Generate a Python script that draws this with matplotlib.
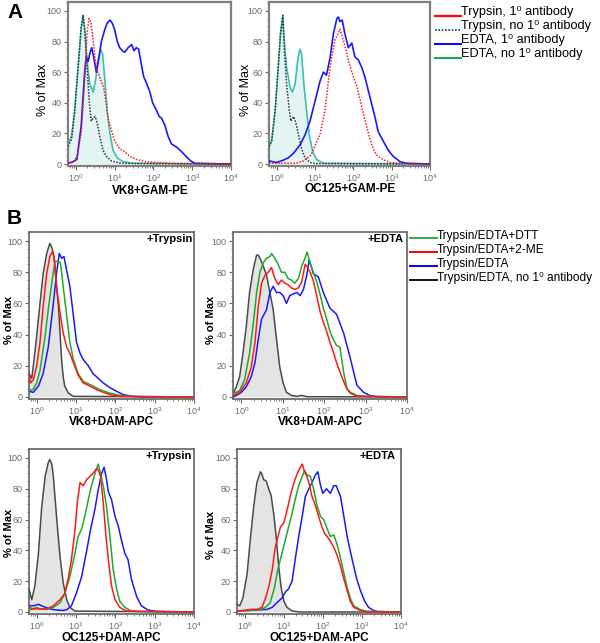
import numpy as np
import matplotlib
matplotlib.use("Agg")
import matplotlib.pyplot as plt
from matplotlib.ticker import LogLocator, MultipleLocator, NullFormatter, FixedLocator
from matplotlib.lines import Line2D

plt.rcParams['font.family'] = ['Liberation Sans', 'DejaVu Sans']
plt.rcParams['mathtext.fontset'] = 'custom'
plt.rcParams['mathtext.rm'] = 'Liberation Sans'
plt.rcParams['mathtext.it'] = 'Liberation Sans'
plt.rcParams['mathtext.bf'] = 'Liberation Sans:bold'

# ---------------- data (x = log10 fluorescence, y = % of Max) ----------------
# Panel A, left: VK8+GAM-PE
A1_tryp_noab_x = [-0.2,-0.11,-0.03,0.06,0.14,0.19,0.24,0.29,0.36,0.4,0.45,0.5,0.55,0.62,0.7,0.79,0.92,1.13,1.48,4.0]
A1_tryp_noab_y = [11.5,16,33,63,89,97.5,85,63,37,28,30,31,27,18,9,5,2,0.6,0.3,0]
A1_edta_noab_x = [-0.2,-0.11,-0.03,0.06,0.14,0.19,0.24,0.29,0.36,0.45,0.51,0.58,0.64,0.69,0.75,0.81,0.88,0.96,1.07,1.22,1.48,4.0]
A1_edta_noab_y = [13,18,35,63,89,97,85,68,52,47,55,68,75,72,55,35,20,9,4,1.5,0.5,0]
A1_tryp_ab_x = [-0.2,-0.07,0.03,0.14,0.23,0.29,0.34,0.39,0.46,0.53,0.6,0.67,0.72,0.77,0.83,0.92,1.0,1.13,1.26,1.39,1.56,1.82,2.17,2.68,4.0]
A1_tryp_ab_y = [0.5,1,5,20,55,85,95,93,78,62,58,53,50,42,30,22,15,10,8,5,3,1.5,0.8,0.3,0]
A1_edta_ab_x = [-0.2,-0.07,0.03,0.14,0.23,0.27,0.32,0.36,0.41,0.46,0.53,0.6,0.66,0.75,0.81,0.88,0.94,1.0,1.07,1.13,1.2,1.26,1.35,1.44,1.5,1.56,1.62,1.69,1.75,1.82,1.91,1.98,2.02,2.08,2.15,2.21,2.3,2.38,2.47,2.6,2.73,2.84,2.96,3.07,4.0]
A1_edta_ab_y = [0.5,1.5,3,25,60,70,67,72,76,70,60,70,80,88,92,94,92,88,80,76,74,73,76,78,74,76,75,65,57,53,47,40,38,35,31,30,25,18,13,11,8,5,2,0.5,0]

# Panel A, right: OC125+GAM-PE
A2_tryp_noab_x = [-0.2,-0.13,-0.04,0.04,0.1,0.16,0.2,0.26,0.33,0.37,0.44,0.5,0.57,0.65,0.74,0.87,1.0,4.0]
A2_tryp_noab_y = [11.5,15,35,63,85,97,74,52,35,28,31,27,19,10,4,1,0.3,0]
A2_edta_noab_x = [-0.2,-0.13,-0.04,0.04,0.1,0.16,0.2,0.26,0.35,0.41,0.48,0.55,0.61,0.65,0.71,0.78,0.85,0.94,1.04,1.22,4.0]
A2_edta_noab_y = [11.5,15,35,63,85,97,80,63,50,47,52,68,75,72,52,35,19,8,3,0.5,0]
A2_tryp_ab_x = [-0.2,0.5,0.7,0.9,1.0,1.13,1.26,1.39,1.52,1.6,1.65,1.7,1.75,1.83,1.9,2.0,2.1,2.17,2.26,2.35,2.45,2.52,2.6,2.7,2.85,2.96,3.3,4.0]
A2_tryp_ab_y = [0.5,0.5,2,6,12,19,35,63,81,85,88,84,80,72,65,57,50,43,33,24,15,10,6,4,2,1,0.5,0]
A2_edta_ab_x = [-0.2,0.0,0.17,0.3,0.44,0.61,0.74,0.87,1.0,1.13,1.22,1.3,1.39,1.48,1.57,1.61,1.65,1.71,1.78,1.87,1.96,2.04,2.13,2.22,2.3,2.39,2.48,2.57,2.65,2.78,2.91,3.04,3.22,3.39,4.0]
A2_edta_ab_y = [2,1,2.5,4,7,12.5,19,28,41,54,60,58,69,85,95,96,93,94,85,76,79,70,68,63,57,48,39,30,21,15,9,5,1.5,0.5,0]

# Panel B, top-left: VK8+DAM-APC, +Trypsin
B1_noab_x = [-0.2,-0.13,-0.09,-0.005,0.08,0.16,0.25,0.33,0.38,0.42,0.46,0.5,0.55,0.59,0.63,0.67,0.71,0.8,0.93,4.0]
B1_noab_y = [15,12,20,39,60,79,92,98.5,96,92,84,71,58,41,24,13,7,2.5,0.4,0]
B1_2me_x = [-0.2,-0.16,-0.09,-0.005,0.08,0.16,0.25,0.33,0.39,0.44,0.5,0.59,0.67,0.76,0.84,0.93,1.05,1.18,1.35,1.52,1.69,1.86,2.11,4.0]
B1_2me_y = [15,9,11,20,35,58,79,90,93,90,71,54,41,32,28,22,14,9,7,4.7,3,1.5,0.4,0]
B1_dtt_x = [-0.2,-0.09,-0.005,0.08,0.21,0.29,0.38,0.46,0.55,0.6,0.67,0.76,0.84,0.93,1.05,1.18,1.31,1.43,1.6,1.86,2.11,2.45,4.0]
B1_dtt_y = [4,5,9,17,39,56,73,87,87,86,71,52,35,24,15,10,8.5,7,4.7,2.5,1,0.3,0]
B1_edta_x = [-0.2,-0.09,0.04,0.16,0.29,0.42,0.5,0.57,0.63,0.69,0.76,0.84,0.93,1.01,1.1,1.18,1.31,1.43,1.56,1.69,1.86,2.03,2.2,2.45,2.62,4.0]
B1_edta_y = [3.6,3,7,15,32,60,79,92,89,90,81,71,52,35,28,24,20,15,12,9,6,3.6,1.5,0.4,0.1,0]

# Panel B, top-right: VK8+DAM-APC, +EDTA
B2_noab_x = [-0.2,-0.12,-0.04,0.04,0.12,0.2,0.29,0.37,0.41,0.45,0.53,0.61,0.69,0.77,0.85,0.93,1.01,1.09,1.21,1.34,1.46,1.58,4.0]
B2_noab_y = [2,6.5,13,28,45,67,82,91,91,89,84,78,67,56,37,19,9,3,1,0.4,1,0.2,0]
B2_2me_x = [-0.2,-0.04,0.12,0.24,0.33,0.41,0.49,0.57,0.65,0.73,0.81,0.89,0.97,1.05,1.13,1.21,1.29,1.38,1.46,1.54,1.58,1.66,1.74,1.82,1.9,1.98,2.06,2.14,2.22,2.3,2.38,2.47,2.55,2.63,2.79,4.0]
B2_2me_y = [1,3,9,19,35,58,73,78,80,83,76,72,75,73,72,70,69,70,74,85,84,80,74.5,65,55,48,42,35,29,22,16,10,5,2.5,0.5,0]
B2_dtt_x = [-0.2,-0.04,0.08,0.2,0.29,0.37,0.45,0.53,0.61,0.69,0.73,0.81,0.89,0.97,1.05,1.13,1.21,1.29,1.38,1.46,1.54,1.59,1.66,1.74,1.82,1.9,1.98,2.06,2.14,2.22,2.3,2.38,2.47,2.55,2.63,2.79,3.03,4.0]
B2_dtt_y = [2,4,11,28,47,67,80,86,89,90,92,89,85,80,80,76,75,73,76,84,89,93,86,80,74,66,57,50,42,37,33,32,16,5.4,3,1,0.4,0]
B2_edta_x = [-0.2,-0.12,0.0,0.12,0.24,0.33,0.41,0.49,0.61,0.69,0.77,0.85,0.93,1.01,1.09,1.17,1.25,1.34,1.42,1.5,1.58,1.64,1.74,1.86,1.98,2.14,2.3,2.47,2.63,2.79,2.95,3.1,3.27,4.0]
B2_edta_y = [0,1,3,6.5,13,22,37,50,56,67,71,67,67,65,60,65,66,67,65,69,78,88,79,77,67,57,53,41,25,7.5,3,1,0.2,0]

# Panel B, bottom-left: OC125+DAM-APC, +Trypsin
B3_noab_x = [-0.2,-0.13,-0.05,0.04,0.12,0.21,0.29,0.33,0.38,0.42,0.46,0.52,0.59,0.67,0.76,0.84,0.97,4.0]
B3_noab_y = [15,8,17,38,67,88,97,99,96,88,75,56,36,19,8,3,0.6,0]
B3_2me_x = [-0.2,-0.09,0.08,0.25,0.42,0.59,0.71,0.8,0.88,0.97,1.03,1.1,1.18,1.27,1.35,1.43,1.52,1.57,1.62,1.69,1.76,1.82,1.9,1.99,2.11,2.28,4.0]
B3_2me_y = [3,2,2,2,4,8,12,22,34,53,71,84,82,86,88,90,93,92,88,71,49,34,17,8,3,0.6,0]
B3_dtt_x = [-0.2,-0.09,-0.005,0.08,0.25,0.42,0.59,0.71,0.84,0.97,1.05,1.14,1.22,1.31,1.39,1.48,1.56,1.6,1.69,1.77,1.86,1.94,2.03,2.11,2.24,2.37,2.53,4.0]
B3_dtt_y = [1.3,2,3,2,1.7,3,6,12,23,38,49,54,62,73,82,90,96,92,82,69,49,28,15,7,3,1,0.3,0]
B3_edta_x = [-0.2,-0.09,0.04,0.12,0.33,0.5,0.67,0.76,0.88,1.01,1.14,1.27,1.37,1.48,1.56,1.65,1.71,1.76,1.82,1.9,1.99,2.07,2.15,2.24,2.32,2.41,2.54,2.66,2.83,3.04,4.0]
B3_edta_y = [4,4,5,4,2,1.3,1,1.5,4,12.5,23,40,54,67,79,90,94,88,78,73,62,56,47,38,34,21,10,4,1.3,0.4,0]

# Panel B, bottom-right: OC125+DAM-APC, +EDTA
B4_noab_x = [-0.2,-0.13,-0.05,0.06,0.14,0.23,0.31,0.4,0.44,0.48,0.55,0.61,0.67,0.74,0.81,0.87,0.93,1.0,1.08,1.21,1.42,4.0]
B4_noab_y = [5,4,9,25,47,69,84,91,89.5,86,85,80,76,64,47,29,16,7,3,0.7,0,0]
B4_2me_x = [-0.2,-0.03,0.14,0.31,0.44,0.53,0.61,0.7,0.78,0.91,1.0,1.1,1.18,1.27,1.38,1.47,1.53,1.59,1.66,1.72,1.81,1.89,1.98,2.04,2.11,2.19,2.28,2.36,2.45,2.53,2.62,2.7,2.79,2.96,3.13,4.0]
B4_2me_y = [0.7,1,1.7,1.7,3,9,16,27,42,55,58,68,77,85,92,96,91,88,82,75,69,62,55,51,49,46,42,37,30,22,14,7,3,1,0,0]
B4_dtt_x = [-0.2,0.14,0.4,0.53,0.65,0.76,0.84,0.95,1.04,1.12,1.21,1.29,1.38,1.47,1.53,1.59,1.68,1.76,1.85,1.94,2.02,2.11,2.19,2.28,2.36,2.45,2.53,2.62,2.7,2.79,2.96,3.13,4.0]
B4_dtt_y = [0.7,1,1.7,3,6,16,27,38,47,55,64,73,82,88,92,89,88,80,69,62,60,54,49,50,44,35,26,16,9,4,1.5,0.5,0]
B4_edta_x = [-0.2,0.14,0.57,0.7,0.82,0.95,1.04,1.12,1.21,1.29,1.38,1.47,1.55,1.64,1.72,1.81,1.87,1.94,2.0,2.09,2.19,2.28,2.34,2.45,2.55,2.62,2.75,2.86,2.96,3.07,3.17,3.3,3.39,4.0]
B4_edta_y = [0.7,1,1.7,3,6,9,13,15,20,34,49,62,75,80,84,89,91,82,77,80,77,82,82,75,60,49,34,22,14,7,3,1,0.3,0]

A_legend_labels = ["Trypsin, 1\u2070 antibody", "Trypsin, no 1\u2070 antibody",
                   "EDTA, 1\u2070 antibody", "EDTA, no 1\u2070 antibody"]
B_legend_labels = ["Trypsin/EDTA+DTT", "Trypsin/EDTA+2-ME", "Trypsin/EDTA",
                   "Trypsin/EDTA, no 1\u2070 antibody"]
A_xlabels = ["VK8+GAM-PE", "OC125+GAM-PE"]
B_xlabels = ["VK8+DAM-APC", "VK8+DAM-APC", "OC125+DAM-APC", "OC125+DAM-APC"]
B_tags = ["+Trypsin", "+EDTA", "+Trypsin", "+EDTA"]
y_ticks = [0, 20, 40, 60, 80, 100]

# ---------------- styling ----------------
W, H = 600, 643
fig = plt.figure(figsize=(W / 100, H / 100), dpi=100)

RED = '#ff1a1a'
BLUE = '#1a1aff'
GREEN = '#1faa2a'
CYAN = '#3dbfb3'
CYAN_FILL = '#e3f4f3'
GRAY = '#4a4a4a'
GRAY_FILL = '#e4e4e4'
TICKC = '#6a6a6a'


def px_axes(l, t, r, b):
    return fig.add_axes([l / W, 1 - b / H, (r - l) / W, (b - t) / H])


def ftext(x, y, s, **kw):
    fig.text(x / W, 1 - y / H, s, **kw)


def style(ax, spine_color='#808080', spine_w=1.6):
    ax.set_xscale('log')
    ax.set_xlim(10 ** -0.2, 10 ** 4)
    ax.set_ylim(-1.3, 105.8)
    ax.xaxis.set_major_locator(LogLocator(base=10, numticks=10))
    ax.xaxis.set_minor_locator(LogLocator(base=10, subs=np.arange(2, 10), numticks=10))
    ax.xaxis.set_minor_formatter(NullFormatter())
    ax.yaxis.set_major_locator(FixedLocator(y_ticks))
    ax.yaxis.set_minor_locator(MultipleLocator(5))
    for s in ax.spines.values():
        s.set_color(spine_color)
        s.set_linewidth(spine_w)
    ax.tick_params(axis='both', which='major', direction='out', length=3, width=0.8,
                   colors=TICKC, labelsize=6.5, pad=1.5)
    ax.tick_params(axis='both', which='minor', direction='out', length=1.6, width=0.6,
                   colors=TICKC)
    ax.tick_params(axis='x', which='major', pad=1.5)
    ax.set_facecolor('white')


def X(v):
    return 10 ** np.asarray(v, dtype=float)


# ---------------- Panel A ----------------
A_axes = [px_axes(68, 2, 231, 166), px_axes(269, 2, 430, 166)]
A_data = [
    (A1_tryp_ab_x, A1_tryp_ab_y, A1_tryp_noab_x, A1_tryp_noab_y,
     A1_edta_ab_x, A1_edta_ab_y, A1_edta_noab_x, A1_edta_noab_y),
    (A2_tryp_ab_x, A2_tryp_ab_y, A2_tryp_noab_x, A2_tryp_noab_y,
     A2_edta_ab_x, A2_edta_ab_y, A2_edta_noab_x, A2_edta_noab_y),
]
for ax, d in zip(A_axes, A_data):
    style(ax)
    tax, tay, tnx, tny, eax, eay, enx, eny = d
    ax.fill_between(X(enx), eny, 0, color=CYAN_FILL, lw=0, zorder=1)
    ax.plot(X(enx), eny, color=CYAN, lw=1.2, zorder=3)
    ax.plot(X(tnx), tny, color='#333333', lw=1.1, ls=(0, (1, 1)), zorder=4)
    ax.plot(X(eax), eay, color=BLUE, lw=1.2, zorder=3)
    ax.plot(X(tax), tay, color=RED, lw=1.1, ls=(0, (1, 1)), zorder=4)

ftext(43, 90, "% of Max", rotation=90, ha='center', va='center', fontsize=9)
ftext(246, 90, "% of Max", rotation=90, ha='center', va='center', fontsize=9)
ftext(150, 191, A_xlabels[0], ha='center', va='center', fontsize=8.5, fontweight='bold')
ftext(350, 189, A_xlabels[1], ha='center', va='center', fontsize=8.5, fontweight='bold')

# legend A
A_leg_styles = [dict(color='#ff0000', lw=1.6, ls='-'), dict(color='#333333', lw=1.2, ls=(0, (1, 1))),
                dict(color='#0000ff', lw=1.4, ls='-'), dict(color='#00b050', lw=1.4, ls='-')]
for i, (lab, st) in enumerate(zip(A_legend_labels, A_leg_styles)):
    yy = 12.5 + i * 14
    fig.add_artist(Line2D([435 / W, 461 / W], [1 - (yy + 3) / H] * 2, **st))
    ftext(461, yy, lab, ha='left', va='center', fontsize=9.2)

ftext(7, 12, "A", ha='left', va='center', fontsize=15, fontweight='bold')
ftext(7, 218, "B", ha='left', va='center', fontsize=15, fontweight='bold')

# ---------------- Panel B ----------------
B_boxes = [(29, 232, 194, 399), (233, 232, 407, 399), (29, 449, 194, 614), (237, 449, 401, 614)]
B_data = [
    (B1_noab_x, B1_noab_y, B1_edta_x, B1_edta_y, B1_dtt_x, B1_dtt_y, B1_2me_x, B1_2me_y),
    (B2_noab_x, B2_noab_y, B2_edta_x, B2_edta_y, B2_dtt_x, B2_dtt_y, B2_2me_x, B2_2me_y),
    (B3_noab_x, B3_noab_y, B3_edta_x, B3_edta_y, B3_dtt_x, B3_dtt_y, B3_2me_x, B3_2me_y),
    (B4_noab_x, B4_noab_y, B4_edta_x, B4_edta_y, B4_dtt_x, B4_dtt_y, B4_2me_x, B4_2me_y),
]
B_ylab_pos = [(9, 320), (211, 320), (9, 533), (211, 535)]
B_xlab_pos = [(111, 422), (320, 422), (111, 638), (319, 638)]
B_tag_pos = [(193, 239), (404, 239), (192, 456), (396, 456)]
for i, (box, d) in enumerate(zip(B_boxes, B_data)):
    ax = px_axes(*box)
    style(ax, spine_color='#6e6e6e', spine_w=1.3)
    nx, ny, ex, ey, dx, dy, mx, my = d
    ax.fill_between(X(nx), ny, 0, color=GRAY_FILL, lw=0, zorder=1)
    ax.plot(X(nx), ny, color=GRAY, lw=1.1, zorder=3)
    ax.plot(X(ex), ey, color=BLUE, lw=1.1, zorder=3)
    ax.plot(X(dx), dy, color=GREEN, lw=1.1, zorder=3)
    ax.plot(X(mx), my, color=RED, lw=1.1, zorder=4)
    yl = B_ylab_pos[i]
    ftext(yl[0], yl[1], "% of Max", rotation=90, ha='center', va='center',
          fontsize=8, fontweight='bold')
    xl = B_xlab_pos[i]
    ftext(xl[0], xl[1], B_xlabels[i], ha='center', va='center', fontsize=8.5, fontweight='bold')
    tp = B_tag_pos[i]
    ftext(tp[0], tp[1], B_tags[i], ha='right', va='center', fontsize=8, fontweight='bold')

# legend B
B_leg_colors = ['#22b14c', '#ff0000', '#0000ff', '#111111']
for i, (lab, c) in enumerate(zip(B_legend_labels, B_leg_colors)):
    yy = 236 + i * 14
    fig.add_artist(Line2D([410 / W, 437 / W], [1 - (yy + 2) / H] * 2, color=c, lw=1.4))
    ftext(437, yy, lab, ha='left', va='center', fontsize=8.6)

fig.savefig("out.png", dpi=100, facecolor='white')
